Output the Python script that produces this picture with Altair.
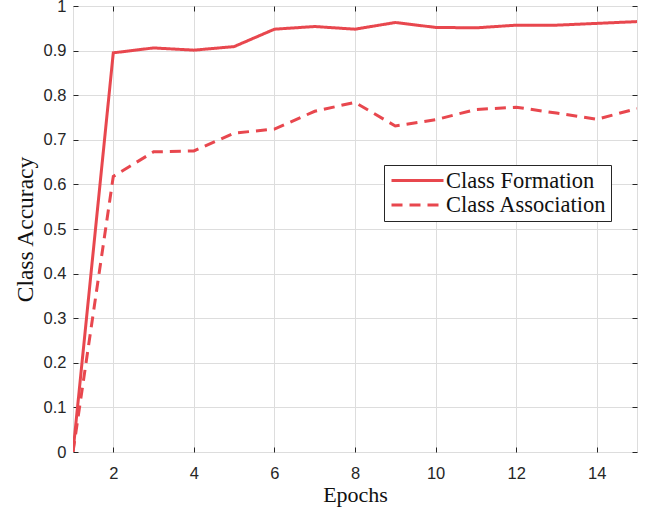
import altair as alt
import pandas as pd

epochs = list(range(1, 16))
formation = [0.0, 0.895, 0.906, 0.901, 0.909, 0.948, 0.954, 0.948, 0.963, 0.952, 0.951, 0.957, 0.957, 0.961, 0.965]
association = [0.0, 0.618, 0.673, 0.675, 0.715, 0.724, 0.764, 0.784, 0.731, 0.745, 0.768, 0.773, 0.760, 0.746, 0.770]
series_names = ["Class Formation", "Class Association"]
x_ticks = [2, 4, 6, 8, 10, 12, 14]
y_ticks = [0, 0.1, 0.2, 0.3, 0.4, 0.5, 0.6, 0.7, 0.8, 0.9, 1.0]

RED = "#E8474E"
DARK = "#262626"
TEXT = "#111111"

rows = []
for name, vals in zip(series_names, [formation, association]):
    for e, v in zip(epochs, vals):
        rows.append({"Epoch": e, "Accuracy": v, "Series": name})
df = pd.DataFrame(rows)

xscale = alt.Scale(domain=[1, 15], nice=False, zero=False)
yscale = alt.Scale(domain=[0, 1], nice=False)

legend_kw = dict(
    title=None, orient="none", legendX=311, legendY=159,
    symbolType="M-0.8,0H4.4", symbolStrokeWidth=3, symbolSize=400,
    labelFont="Liberation Serif", labelFontSize=22.5, labelColor=TEXT, labelLimit=400,
    fillColor="white", strokeColor=DARK, padding=4,
    rowPadding=1.5, labelOffset=35,
)

lines = alt.Chart(df).mark_line(strokeWidth=3, clip=True).encode(
    x=alt.X("Epoch:Q", scale=xscale,
            axis=alt.Axis(values=x_ticks, title="Epochs", grid=True, domain=False,
                          tickSize=5, offset=-5, tickColor=DARK, labelPadding=13,
                          labelFont="Liberation Sans", labelFontSize=16.5, labelColor=DARK,
                          titleFont="Liberation Serif", titleFontSize=22, titleFontWeight="normal",
                          titleColor=TEXT, titlePadding=3)),
    y=alt.Y("Accuracy:Q", scale=yscale,
            axis=alt.Axis(values=y_ticks, format="~g", title="Class Accuracy", grid=True, domain=False,
                          tickSize=5, offset=-5, tickColor=DARK, labelPadding=7,
                          labelFont="Liberation Sans", labelFontSize=16.5, labelColor=DARK,
                          titleFont="Liberation Serif", titleFontSize=23.5, titleFontWeight="normal",
                          titleColor=TEXT, titlePadding=6)),
    color=alt.Color("Series:N", sort=series_names,
                    scale=alt.Scale(domain=series_names, range=[RED, RED]),
                    legend=alt.Legend(**legend_kw)),
    strokeDash=alt.StrokeDash("Series:N", sort=series_names,
                              scale=alt.Scale(domain=series_names, range=[[1, 0], [11, 7]]),
                              legend=alt.Legend(**legend_kw)),
)

frame = alt.Chart(df).mark_line(opacity=0).encode(
    x=alt.X("Epoch:Q", scale=xscale,
            axis=alt.Axis(values=x_ticks, orient="top", title=None, labels=False, grid=False,
                          domain=False, tickSize=5, offset=-5, tickColor=DARK)),
    y=alt.Y("Accuracy:Q", scale=yscale,
            axis=alt.Axis(values=y_ticks, orient="right", title=None, labels=False, grid=False,
                          domain=False, tickSize=5, offset=-5, tickColor=DARK)),
)

chart = alt.layer(frame, lines).resolve_axis(x="independent", y="independent").properties(
    width=564, height=446,
    padding={"left": 73, "top": 6, "right": 15, "bottom": 55},
    autosize=alt.AutoSizeParams(type="none"),
).configure_view(stroke=DARK, strokeWidth=1).configure_axis(
    gridColor="#E6E6E6", gridWidth=1
).configure(background="white")

chart.save("out.html", embed_options={"renderer": "svg", "actions": False})
